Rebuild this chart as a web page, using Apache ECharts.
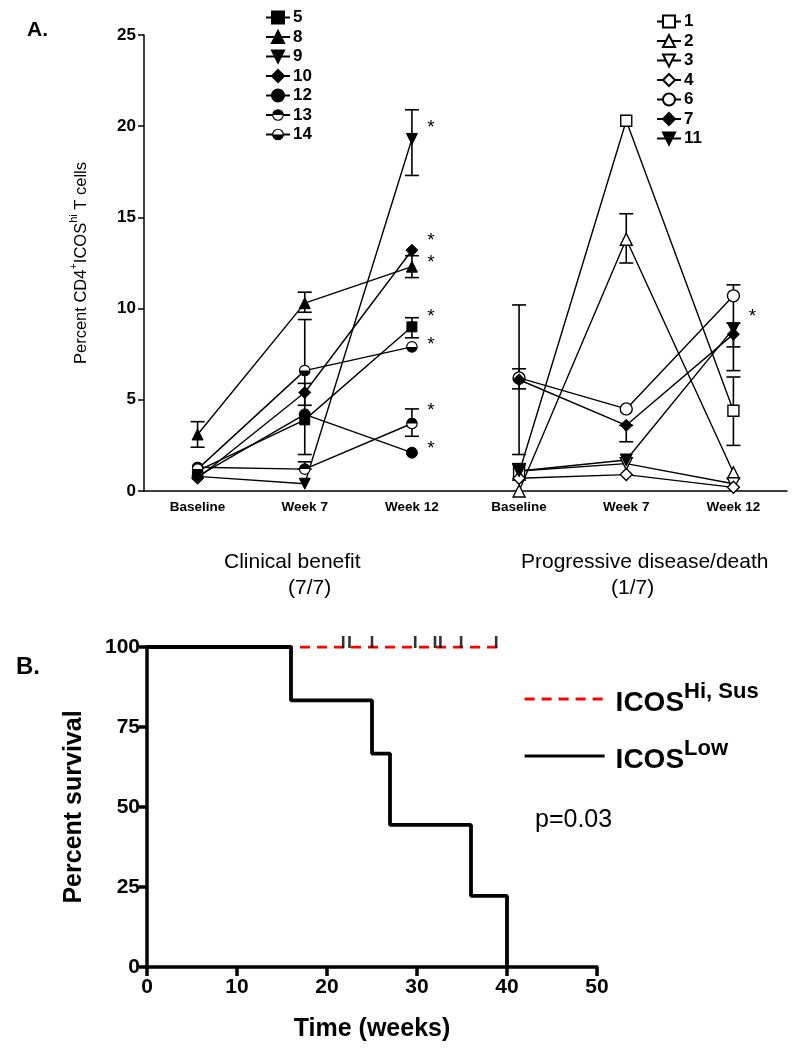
<!DOCTYPE html>
<html><head><meta charset="utf-8">
<script src="https://cdn.jsdelivr.net/npm/echarts@6/dist/echarts.min.js"></script>
<style>html,body{margin:0;padding:0;background:#fff}#c{width:796px;height:1050px}</style>
</head><body><div id="c"></div>
<script>
// ---------- Panel A data ----------
const categories = ['Baseline','Week 7','Week 12','Baseline','Week 7','Week 12'];
const yTicksA = [0,5,10,15,20,25];
// Clinical benefit group (categories 0..2)
const p5  = [1.1, 3.9, 9.0];
const p8  = [3.1, 10.3, 12.3];
const p9  = [0.8, 0.4, 19.3];
const p10 = [0.7, 5.4, 13.2];
const p12 = [0.8, 4.2, 2.1];
const p13 = [1.3, 1.2, 3.7];
const p14 = [1.2, 6.6, 7.9];
// Progressive disease group (categories 3..5)
const p1  = [1.0, 20.3, 4.4];
const p2  = [0.0, 13.8, 1.0];
const p3  = [1.1, 1.5, 0.4];
const p4  = [0.7, 0.9, 0.2];
const p6  = [6.2, 4.5, 10.7];
const p7  = [6.1, 3.6, 8.6];
const p11 = [1.1, 1.7, 8.9];
// error bars: [categoryIndex, low, high]
const errBars = [
  [0, 2.4, 3.8],
  [1, 2.0, 9.4], [1, 9.8, 10.9], [1, 4.7, 5.9], [1, 1.2, 1.6],
  [2, 17.3, 20.9], [2, 8.4, 9.5], [2, 11.7, 12.9], [2, 3.0, 4.5],
  [3, 2.0, 10.2], [3, 5.6, 6.7], [3, 0.6, 1.5],
  [4, 12.5, 15.2], [4, 2.7, 3.6],
  [5, 7.9, 11.3], [5, 6.6, 9.2], [5, 2.5, 6.25]
];
// significance asterisks: [categoryIndex, value]
const stars = [[2,20.2],[2,14.0],[2,12.8],[2,9.8],[2,8.3],[2,4.7],[2,2.6],[5,9.8]];

// ---------- Panel B data ----------
const survTimes = [0, 16, 25, 27, 36, 40];
const survLow   = [100, 83.3, 66.7, 44.4, 22.2, 0];
const hiTimes   = [0, 39];
const hiValues  = [100, 100];
const censorTimes = [21.8, 22.5, 25, 29.8, 32, 32.6, 34.9, 38.8];
const xTicksB = [0,10,20,30,40,50];
const yTicksB = [0,25,50,75,100];

function svgSym(pathD){
  const s = "<svg xmlns='http://www.w3.org/2000/svg' width='24' height='24'>" +
    "<circle cx='12' cy='12' r='10.5' fill='white' stroke='black' stroke-width='2.4'/>" +
    "<path d='" + pathD + "' fill='black'/></svg>";
  return 'image://data:image/svg+xml;charset=utf-8,' + encodeURIComponent(s);
}
const topHalf = svgSym('M1.5 12 A10.5 10.5 0 0 1 22.5 12 Z');
const botHalf = svgSym('M1.5 12 A10.5 10.5 0 0 0 22.5 12 Z');

function mk(name, vals, offset, symbol, filled, size){
  return {
    name: name, type: 'line', xAxisIndex: 0, yAxisIndex: 0,
    data: vals.map((v,i)=>[i+offset, v]),
    symbol: symbol, symbolSize: size || 11,
    lineStyle: {color:'#000', width: 1.4},
    itemStyle: filled ? {color:'#000', borderColor:'#000', borderWidth:1} : {color:'#fff', borderColor:'#000', borderWidth:1.4},
    z: 3
  };
}
const diamond = 'diamond';
const downTri = 'path://M0,0 L10,0 L5,9 Z';

const seriesA = [
  mk('5', p5, 0, 'rect', true, 10),
  mk('8', p8, 0, 'triangle', true, 11),
  mk('9', p9, 0, downTri, true, 11),
  mk('10', p10, 0, diamond, true, 12),
  mk('12', p12, 0, 'circle', true, 11),
  mk('13', p13, 0, topHalf, true, 12),
  mk('14', p14, 0, botHalf, true, 12),
  mk('1', p1, 3, 'rect', false, 11),
  mk('2', p2, 3, 'triangle', false, 12),
  mk('3', p3, 3, downTri, false, 12),
  mk('4', p4, 3, diamond, false, 12),
  mk('6', p6, 3, 'circle', false, 12),
  mk('7', p7, 3, diamond, true, 12),
  mk('11', p11, 3, downTri, true, 12)
];

const chart = echarts.init(document.getElementById('c'), null, {renderer:'canvas'});
const FONT = "'Liberation Sans', Arial, sans-serif";

const option = {
  backgroundColor: '#fff',
  animation: false,
  textStyle: {fontFamily: FONT, color:'#000'},
  grid: [
    {left: 144, top: 35, width: 643, height: 456},
    {left: 147, top: 647, width: 450, height: 320}
  ],
  xAxis: [
    {gridIndex: 0, type: 'category', data: categories, boundaryGap: true,
     axisLine: {lineStyle: {color:'#000', width: 1.5}},
     axisTick: {alignWithLabel: true, length: 5, lineStyle: {color:'#000', width: 1.5}},
     axisLabel: {color:'#000', fontWeight:'bold', fontSize: 13.5, margin: 9, fontFamily: FONT}},
    {gridIndex: 1, type: 'value', min: 0, max: 50, interval: 10,
     axisLine: {lineStyle: {color:'#000', width: 3.5}},
     axisTick: {length: 9, lineStyle: {color:'#000', width: 3.5}},
     axisLabel: {color:'#000', fontWeight:'bold', fontSize: 21, margin: 10, fontFamily: FONT},
     splitLine: {show:false},
     name: 'Time (weeks)', nameLocation: 'middle', nameGap: 50,
     nameTextStyle: {color:'#000', fontWeight:'bold', fontSize: 25, fontFamily: FONT}}
  ],
  yAxis: [
    {gridIndex: 0, type: 'value', min: 0, max: 25, interval: 5,
     axisLine: {show: true, lineStyle: {color:'#000', width: 1.5}},
     axisTick: {show: true, length: 6, lineStyle: {color:'#000', width: 1.5}},
     axisLabel: {color:'#000', fontWeight:'bold', fontSize: 17, margin: 8, fontFamily: FONT},
     splitLine: {show:false},
     name: '{n|Percent CD4}{s|+}{n|ICOS}{s|hi}{n| T cells}',
     nameLocation: 'middle', nameGap: 54, nameRotate: 90,
     nameTextStyle: {rich: {
       n: {fontSize: 16.5, color:'#000', fontFamily: FONT, verticalAlign:'bottom', lineHeight: 22},
       s: {fontSize: 11, color:'#000', fontFamily: FONT, verticalAlign:'top', lineHeight: 22}
     }}},
    {gridIndex: 1, type: 'value', min: 0, max: 100, interval: 25,
     axisLine: {show: true, lineStyle: {color:'#000', width: 3.5}},
     axisTick: {show: true, length: 8, lineStyle: {color:'#000', width: 3.5}},
     axisLabel: {color:'#000', fontWeight:'bold', fontSize: 21, margin: 7, fontFamily: FONT},
     splitLine: {show:false},
     name: 'Percent survival', nameLocation: 'middle', nameGap: 60, nameRotate: 90,
     nameTextStyle: {color:'#000', fontWeight:'bold', fontSize: 25, fontFamily: FONT}}
  ],
  legend: [
    {data: ['5','8','9','10','12','13','14'], orient: 'vertical', left: 260, top: 3,
     itemWidth: 24, itemHeight: 15, itemGap: 0.5, selectedMode: false,
     textStyle: {fontSize: 17, fontWeight:'bold', color:'#000', lineHeight: 19, fontFamily: FONT, padding:[0,0,0,-2]}},
    {data: ['1','2','3','4','6','7','11'], orient: 'vertical', left: 651, top: 7,
     itemWidth: 24, itemHeight: 15, itemGap: 0.5, selectedMode: false,
     textStyle: {fontSize: 17, fontWeight:'bold', color:'#000', lineHeight: 19, fontFamily: FONT, padding:[0,0,0,-2]}},
    {data: ['hi','low'], orient: 'vertical', left: 518, top: 676,
     itemWidth: 80, itemHeight: 14, itemGap: 21, selectedMode: false,
     itemStyle: {opacity: 0},
     lineStyle: {width: 3.2},
     formatter: function(n){ return n === 'hi' ? '{b|ICOS}{s|Hi, Sus}' : '{b|ICOS}{s|Low}'; },
     textStyle: {padding:[0,0,0,6], rich: {
       b: {fontSize: 28, fontWeight:'bold', color:'#000', fontFamily: FONT, verticalAlign:'bottom', lineHeight: 36},
       s: {fontSize: 22, fontWeight:'bold', color:'#000', fontFamily: FONT, verticalAlign:'top', lineHeight: 36}
     }}}
  ],
  graphic: [
    {type:'text', left: 27, top: 20, style: {text:'A.', font: "bold 21px "+FONT, fill:'#000'}},
    {type:'text', left: 16, top: 655, style: {text:'B.', font: "bold 24px "+FONT, fill:'#000'}},
    {type:'text', left: 224, top: 552, style: {text:'Clinical benefit', font: "21px "+FONT, fill:'#000'}},
    {type:'text', left: 288, top: 578, style: {text:'(7/7)', font: "21px "+FONT, fill:'#000'}},
    {type:'text', left: 521, top: 552, style: {text:'Progressive disease/death', font: "21px "+FONT, fill:'#000'}},
    {type:'text', left: 611, top: 578, style: {text:'(1/7)', font: "21px "+FONT, fill:'#000'}},
    {type:'text', left: 535, top: 808, style: {text:'p=0.03', font: "25px "+FONT, fill:'#000'}}
  ],
  series: seriesA.concat([
    {type: 'custom', xAxisIndex: 0, yAxisIndex: 0, data: errBars, z: 2,
     encode: {x: 0, y: [1, 2]},
     renderItem: function(params, api){
       const lo = api.coord([api.value(0), api.value(1)]);
       const hi = api.coord([api.value(0), api.value(2)]);
       const w = 7;
       const st = {stroke:'#000', lineWidth: 1.6, fill: null};
       return {type:'group', children: [
         {type:'line', shape:{x1: lo[0], y1: lo[1], x2: hi[0], y2: hi[1]}, style: st},
         {type:'line', shape:{x1: lo[0]-w, y1: lo[1], x2: lo[0]+w, y2: lo[1]}, style: st},
         {type:'line', shape:{x1: hi[0]-w, y1: hi[1], x2: hi[0]+w, y2: hi[1]}, style: st}
       ]};
     }},
    {type: 'custom', xAxisIndex: 0, yAxisIndex: 0, data: stars, z: 4,
     encode: {x: 0, y: 1},
     renderItem: function(params, api){
       const p = api.coord([api.value(0), api.value(1)]);
       return {type:'text', x: p[0] + 19, y: p[1] + 5,
         style: {text:'*', font: "19px "+FONT, fill:'#000', align:'center', verticalAlign:'middle'}};
     }},
    {name: 'hi', type: 'line', xAxisIndex: 1, yAxisIndex: 1,
     data: hiTimes.map((t,i)=>[t, hiValues[i]]), symbol: 'none',
     lineStyle: {color:'#ff0000', width: 3, type: [10, 7]}, itemStyle: {color:'#ff0000'}, z: 2},
    {name: 'low', type: 'line', xAxisIndex: 1, yAxisIndex: 1, step: 'end',
     data: survTimes.map((t,i)=>[t, survLow[i]]), symbol: 'none',
     lineStyle: {color:'#000', width: 3.8}, itemStyle: {color:'#000'}, z: 3},
    {type: 'scatter', xAxisIndex: 1, yAxisIndex: 1,
     data: censorTimes.map(t=>[t, 100]), symbol: 'rect', symbolSize: [2.6, 12], symbolOffset: [0, -5],
     itemStyle: {color:'#000'}, z: 4}
  ])
};
chart.setOption(option);
</script></body></html>
